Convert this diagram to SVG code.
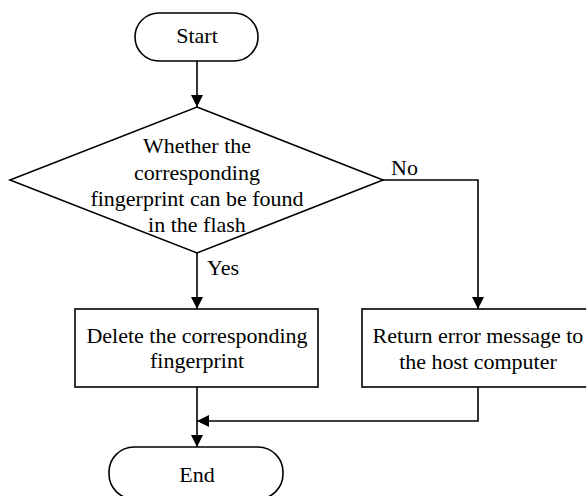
<svg xmlns="http://www.w3.org/2000/svg" width="586" height="496" viewBox="0 0 586 496">
<style>
.s{fill:#fff;stroke:#000;stroke-width:1.6}
.t{font-family:"Liberation Serif","Times New Roman",serif;font-size:22px;fill:#000;text-anchor:middle}
.l{font-family:"Liberation Serif","Times New Roman",serif;font-size:22px;fill:#000}
.c{fill:none;stroke:#000;stroke-width:1.6}
</style>
<defs>
<marker id="ah" markerUnits="userSpaceOnUse" markerWidth="13" markerHeight="13" refX="12" refY="6" orient="auto">
<path d="M0,0 L12,6 L0,12 z" fill="#000"/>
</marker>
</defs>
<rect width="586" height="496" fill="#fff"/>
<g id="connectors">
<path class="c" d="M197,61 V107" marker-end="url(#ah)"/>
<path class="c" d="M197,253 V309" marker-end="url(#ah)"/>
<path class="c" d="M383,180 H478 V309" marker-end="url(#ah)"/>
<path class="c" d="M197,387 V447" marker-end="url(#ah)"/>
<path class="c" d="M478,387 V421 H197" marker-end="url(#ah)"/>
<text class="l" x="207" y="275">Yes</text>
<text class="l" x="391" y="175">No</text>
</g>
<g id="start">
<rect class="s" x="135" y="13" width="123" height="48" rx="24" ry="24"/>
<text class="t" x="197" y="43">Start</text>
</g>
<g id="decision">
<polygon class="s" points="197,107 383,180 197,253 10,180"/>
<text class="t" x="197" y="153">Whether the</text>
<text class="t" x="197" y="180">corresponding</text>
<text class="t" x="197" y="206">fingerprint can be found</text>
<text class="t" x="197" y="232">in the flash</text>
</g>
<g id="delete">
<rect class="s" x="75" y="309" width="243" height="78"/>
<text class="t" x="197" y="343">Delete the corresponding</text>
<text class="t" x="197" y="368">fingerprint</text>
</g>
<g id="error">
<rect class="s" x="362" y="309" width="232" height="78"/>
<text class="t" x="478" y="343">Return error message to</text>
<text class="t" x="478" y="369">the host computer</text>
</g>
<g id="end">
<rect class="s" x="109" y="447" width="174" height="52" rx="25" ry="25"/>
<text class="t" x="197" y="482">End</text>
</g>
</svg>
